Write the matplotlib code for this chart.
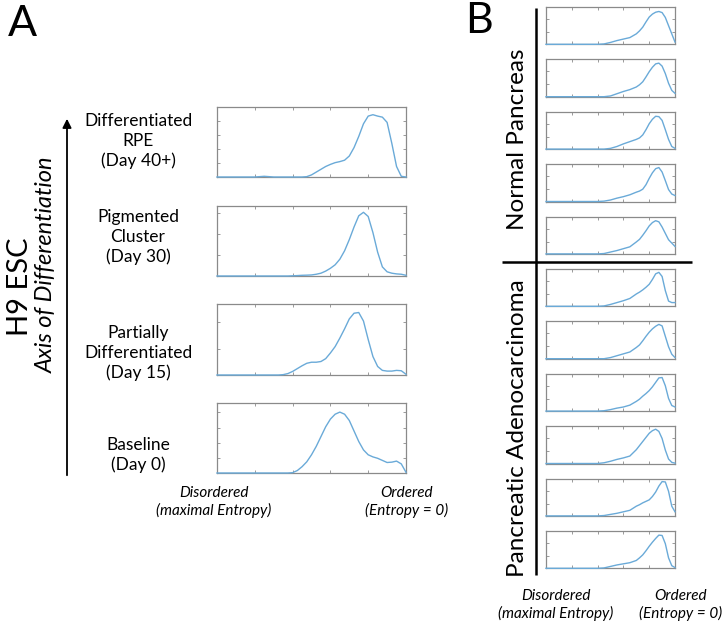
import numpy as np
import matplotlib.pyplot as plt

plt.rcParams['font.family'] = ['Lato', 'DejaVu Sans']

# entropy axis samples, disordered (0) -> ordered (1)
order_a = np.linspace(0, 1, 41)
order_b = np.r_[np.linspace(0, 0.65, 14), np.linspace(0.7, 1.0, 13)]

# Panel A: H9 ESC differentiation stages (top to bottom)
stage_labels = ['Differentiated\nRPE\n(Day 40+)',
                'Pigmented\nCluster\n(Day 30)',
                'Partially\nDifferentiated\n(Day 15)',
                'Baseline\n(Day 0)']
rpe_day40 = [0, 0, 0, 0, 0, 0, 0, 0, 0, 0.005, 0.01, 0.005, 0, 0, 0, 0, 0, 0, 0,
             0.005, 0.03, 0.07, 0.11, 0.15, 0.18, 0.205, 0.22, 0.24, 0.30, 0.42,
             0.58, 0.76, 0.87, 0.89, 0.87, 0.855, 0.78, 0.48, 0.15, 0.01, 0]
pigmented_day30 = [0, 0, 0, 0, 0, 0, 0, 0, 0, 0, 0, 0, 0, 0, 0, 0,
                   0.003, 0.006, 0.01, 0.012, 0.015, 0.025, 0.04, 0.07, 0.11, 0.16,
                   0.24, 0.36, 0.52, 0.70, 0.86, 0.91, 0.85, 0.62, 0.34, 0.13,
                   0.06, 0.04, 0.03, 0.025, 0.01]
partial_day15 = [0, 0, 0, 0, 0, 0, 0, 0, 0, 0, 0, 0, 0, 0,
                 0.005, 0.02, 0.05, 0.09, 0.13, 0.165, 0.18, 0.18, 0.19, 0.23, 0.31,
                 0.40, 0.52, 0.65, 0.79, 0.87, 0.88, 0.76, 0.50, 0.26, 0.12, 0.065,
                 0.055, 0.055, 0.065, 0.06, 0.01]
baseline_day0 = [0, 0, 0, 0, 0, 0, 0, 0, 0, 0, 0, 0, 0, 0, 0, 0,
                 0.005, 0.035, 0.09, 0.16, 0.26, 0.38, 0.52, 0.66, 0.77, 0.84, 0.87,
                 0.84, 0.75, 0.60, 0.45, 0.33, 0.26, 0.23, 0.21, 0.18, 0.15, 0.155,
                 0.17, 0.13, 0.01]
stage_curves = [rpe_day40, pigmented_day30, partial_day15, baseline_day0]
stage_yticks = [[0.2, 0.4, 0.6, 0.8], [0.3, 0.6, 0.9], [0.37, 0.74], [0.22, 0.435, 0.65, 0.87]]

# Panel B: normal pancreas samples
normal_curves = [
    [0, 0, 0, 0, 0, 0, 0, 0, 0, 0.01, 0.05, 0.10, 0.14, 0.18,
     0.28, 0.36, 0.46, 0.60, 0.73, 0.81, 0.86, 0.88, 0.85, 0.72, 0.50, 0.28, 0.06],
    [0, 0, 0, 0, 0, 0, 0, 0, 0, 0, 0.02, 0.08, 0.14, 0.19,
     0.26, 0.32, 0.40, 0.53, 0.67, 0.79, 0.88, 0.90, 0.82, 0.62, 0.36, 0.17, 0.09],
    [0, 0, 0, 0, 0, 0, 0, 0, 0, 0, 0.02, 0.07, 0.14, 0.20,
     0.26, 0.30, 0.38, 0.52, 0.68, 0.80, 0.88, 0.87, 0.77, 0.52, 0.26, 0.07, 0.02],
    [0, 0, 0, 0, 0, 0, 0, 0, 0, 0.01, 0.04, 0.09, 0.13, 0.18,
     0.25, 0.28, 0.33, 0.45, 0.62, 0.77, 0.88, 0.91, 0.79, 0.56, 0.32, 0.20, 0.16],
    [0, 0, 0, 0, 0, 0, 0, 0, 0, 0.01, 0.05, 0.09, 0.14, 0.19,
     0.32, 0.39, 0.50, 0.62, 0.75, 0.84, 0.89, 0.86, 0.72, 0.55, 0.38, 0.29, 0.20],
]
# Panel B: pancreatic adenocarcinoma samples
adeno_curves = [
    [0, 0, 0, 0, 0, 0, 0, 0, 0, 0.01, 0.05, 0.10, 0.15, 0.21,
     0.33, 0.38, 0.44, 0.51, 0.59, 0.72, 0.87, 0.91, 0.80, 0.42, 0.14, 0.10, 0.10],
    [0, 0, 0, 0, 0, 0, 0, 0, 0, 0, 0.03, 0.08, 0.13, 0.18,
     0.30, 0.37, 0.48, 0.60, 0.71, 0.80, 0.87, 0.92, 0.88, 0.60, 0.32, 0.12, 0.03],
    [0, 0, 0, 0, 0, 0, 0, 0, 0, 0.01, 0.04, 0.08, 0.11, 0.16,
     0.26, 0.32, 0.40, 0.47, 0.55, 0.65, 0.77, 0.89, 0.90, 0.68, 0.34, 0.15, 0.11],
    [0, 0, 0, 0, 0, 0, 0, 0, 0, 0.02, 0.06, 0.11, 0.15, 0.20,
     0.37, 0.48, 0.59, 0.70, 0.81, 0.88, 0.92, 0.86, 0.67, 0.36, 0.12, 0.03, 0.01],
    [0, 0, 0, 0, 0, 0, 0, 0, 0, 0.01, 0.04, 0.07, 0.11, 0.15,
     0.26, 0.30, 0.35, 0.39, 0.43, 0.52, 0.64, 0.80, 0.92, 0.91, 0.66, 0.26, 0.11],
    [0, 0, 0, 0, 0, 0, 0, 0, 0, 0.01, 0.05, 0.09, 0.12, 0.15,
     0.21, 0.28, 0.36, 0.47, 0.59, 0.70, 0.80, 0.89, 0.88, 0.66, 0.28, 0.07, 0.02],
]

LINE = '#6aaad8'
EDGE = '#8a8a8a'
W, H = 726, 625

fig = plt.figure(figsize=(W / 100, H / 100), dpi=100)

# overlay in pixel coordinates for the annotations
over = fig.add_axes([0, 0, 1, 1])
over.set_xlim(0, W)
over.set_ylim(H, 0)
over.axis('off')


def px_axes(x0, y0, x1, y1):
    return fig.add_axes([x0 / W, 1 - y1 / H, (x1 - x0) / W, (y1 - y0) / H])


def draw_box(ax, xs, ys, yticks):
    ax.plot(xs, ys, color=LINE, lw=1.0, zorder=3, clip_on=False)
    ax.set_xlim(0, 1)
    ax.set_ylim(0, 1)
    ax.set_xticks([0.2, 0.4, 0.6, 0.8])
    ax.set_yticks(yticks)
    ax.tick_params(direction='in', length=2.5, width=0.6, color=EDGE,
                   top=True, right=True, labelbottom=False, labelleft=False)
    for s in ax.spines.values():
        s.set_color(EDGE)
        s.set_linewidth(0.9)
    ax.patch.set_alpha(0)


# ---- panel A ----
a_rows = [(107, 177), (206, 276), (304, 375), (403, 473)]
label_y = [141, 237, 353, 455]
for (top, bot), curve, lab, ly, yt in zip(a_rows, stage_curves, stage_labels, label_y, stage_yticks):
    ax = px_axes(217, top, 406, bot)
    draw_box(ax, order_a, curve, yt)
    over.text(138, ly, lab, ha='center', va='center', fontsize=12.5, linespacing=1.3)

over.text(8, 36, 'A', fontsize=31, va='baseline', ha='left')
over.annotate('', xy=(67, 116), xytext=(67, 478),
              arrowprops=dict(arrowstyle='-|>', lw=1.3, color='k', mutation_scale=13))
over.text(20, 287, 'H9 ESC', rotation=90, ha='center', va='center', fontsize=21)
over.text(46, 265, 'Axis of Differentiation', rotation=90, ha='center', va='center',
          fontsize=17, style='italic')
over.text(214, 502, 'Disordered\n(maximal Entropy)', ha='center', va='center',
          fontsize=11, style='italic', linespacing=1.25)
over.text(407, 502, 'Ordered\n(Entropy = 0)', ha='center', va='center',
          fontsize=11, style='italic', linespacing=1.25)

# ---- panel B ----
b_curves = normal_curves + adeno_curves
for i, curve in enumerate(b_curves):
    top = 7 + 52.4 * i
    ax = px_axes(546, top, 675, top + 37.3)
    draw_box(ax, order_b, curve, [0.33, 0.68])

over.text(465, 33, 'B', fontsize=31, va='baseline', ha='left')
over.plot([536, 536], [8, 575], color='k', lw=1.8, solid_capstyle='butt')
over.plot([502, 692], [262, 262], color='k', lw=1.8, solid_capstyle='butt')
over.text(517, 139, 'Normal Pancreas', rotation=90, ha='center', va='center', fontsize=17.5)
over.text(517, 428, 'Pancreatic Adenocarcinoma', rotation=90, ha='center', va='center',
          fontsize=17.5)
over.text(556, 605, 'Disordered\n(maximal Entropy)', ha='center', va='center',
          fontsize=11, style='italic', linespacing=1.25)
over.text(681, 605, 'Ordered\n(Entropy = 0)', ha='center', va='center',
          fontsize=11, style='italic', linespacing=1.25)

fig.savefig('out.png', dpi=100)
